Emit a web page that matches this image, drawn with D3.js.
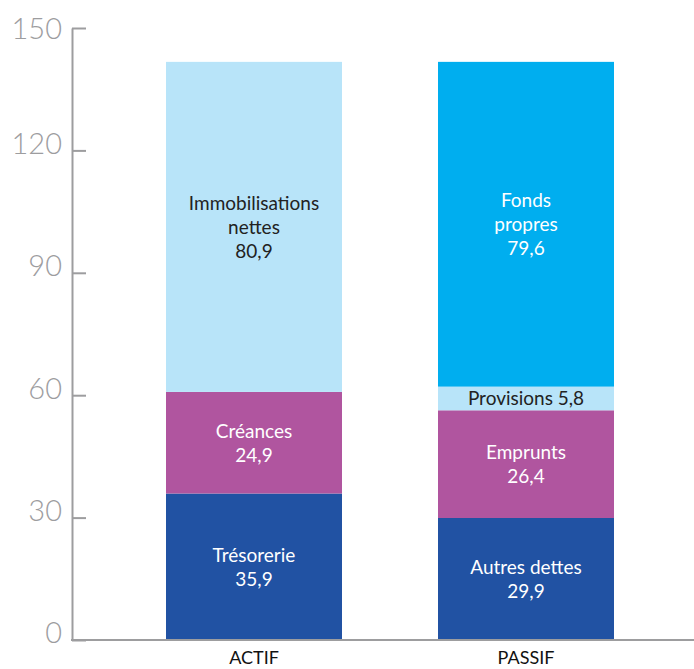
<!DOCTYPE html>
<html>
<head>
<meta charset="utf-8">
<script src="https://cdn.jsdelivr.net/npm/d3@7"></script>
<style>
  html, body { margin: 0; padding: 0; background: #fff; }
  svg { display: block; }
</style>
</head>
<body>
<svg id="chart" width="694" height="669"></svg>
<script>
// ---- data ----
const categories = ["ACTIF", "PASSIF"];
const actifNames = ["Trésorerie", "Créances", "Immobilisations nettes"];
const actifValues = [35.9, 24.9, 80.9];
const passifNames = ["Autres dettes", "Emprunts", "Provisions", "Fonds propres"];
const passifValues = [29.9, 26.4, 5.8, 79.6];
const yTicks = [0, 30, 60, 90, 120, 150];

// segment label lines
const actifLabels = [["Trésorerie", "35,9"], ["Créances", "24,9"], ["Immobilisations", "nettes", "80,9"]];
const passifLabels = [["Autres dettes", "29,9"], ["Emprunts", "26,4"], ["Provisions 5,8"], ["Fonds", "propres", "79,6"]];

// colours
const colDark = "#2152a3", colMag = "#b0559f", colLight = "#b8e4f9", colBright = "#00aeef";
const actifColors = [colDark, colMag, colLight];
const passifColors = [colDark, colMag, colLight, colBright];
const actifText = ["#fff", "#fff", "#222"];
const passifText = ["#fff", "#fff", "#222", "#fff"];

const svg = d3.select("#chart");
const font = "Lato, 'Open Sans', sans-serif";

const y = d3.scaleLinear().domain([0, 150]).range([640, 28]);
const x = d3.scaleBand().domain(categories).range([72, 708]).paddingInner(0.353).paddingOuter(0.3456);

// build stacked segments
function stackSegs(cat, values, names, colors, labels, textCols) {
  let acc = 0;
  return values.map((v, i) => {
    const s = { cat, y0: acc, y1: acc + v, name: names[i], color: colors[i], lines: labels[i], tc: textCols[i] };
    acc += v;
    return s;
  });
}
const segs = stackSegs("ACTIF", actifValues, actifNames, actifColors, actifLabels, actifText)
  .concat(stackSegs("PASSIF", passifValues, passifNames, passifColors, passifLabels, passifText));

svg.append("g").selectAll("rect").data(segs).join("rect")
  .attr("x", d => x(d.cat))
  .attr("width", x.bandwidth())
  .attr("y", d => y(d.y1))
  .attr("height", d => y(d.y0) - y(d.y1))
  .attr("fill", d => d.color);

// labels
const lh = 24;
const lg = svg.append("g").attr("font-family", font).attr("font-size", 19).attr("text-anchor", "middle");
segs.forEach(d => {
  const cx = x(d.cat) + x.bandwidth() / 2;
  const cy = (y(d.y0) + y(d.y1)) / 2;
  const n = d.lines.length;
  d.lines.forEach((t, i) => {
    lg.append("text")
      .attr("x", cx)
      .attr("y", cy + (i - (n - 1) / 2) * lh)
      .attr("dy", "0.36em")
      .attr("fill", d.tc)
      .text(t);
  });
});

// y axis
const axis = d3.axisLeft(y).tickValues(yTicks).tickSizeInner(-14).tickSizeOuter(0).tickPadding(10)
  .tickFormat(d3.format("d"));
const ga = svg.append("g").attr("transform", "translate(72,0)").call(axis);
ga.select(".domain").attr("stroke", "#9d9d9f").attr("stroke-width", 2);
ga.selectAll(".tick line").attr("stroke", "#9d9d9f").attr("stroke-width", 2);
ga.selectAll(".tick text")
  .attr("font-family", font).attr("font-weight", 300).attr("font-size", 29)
  .attr("fill", "#9d9d9f")
  .attr("dy", d => d === 150 ? "0.36em" : "0.1em");

// baseline
svg.append("line").attr("x1", 71).attr("x2", 694).attr("y1", y(0)).attr("y2", y(0))
  .attr("stroke", "#9d9d9f").attr("stroke-width", 2);

// category labels
svg.append("g").selectAll("text").data(categories).join("text")
  .attr("x", d => x(d) + x.bandwidth() / 2)
  .attr("y", 664)
  .attr("text-anchor", "middle")
  .attr("font-family", font).attr("font-size", 18).attr("fill", "#111")
  .text(d => d);
</script>
</body>
</html>
